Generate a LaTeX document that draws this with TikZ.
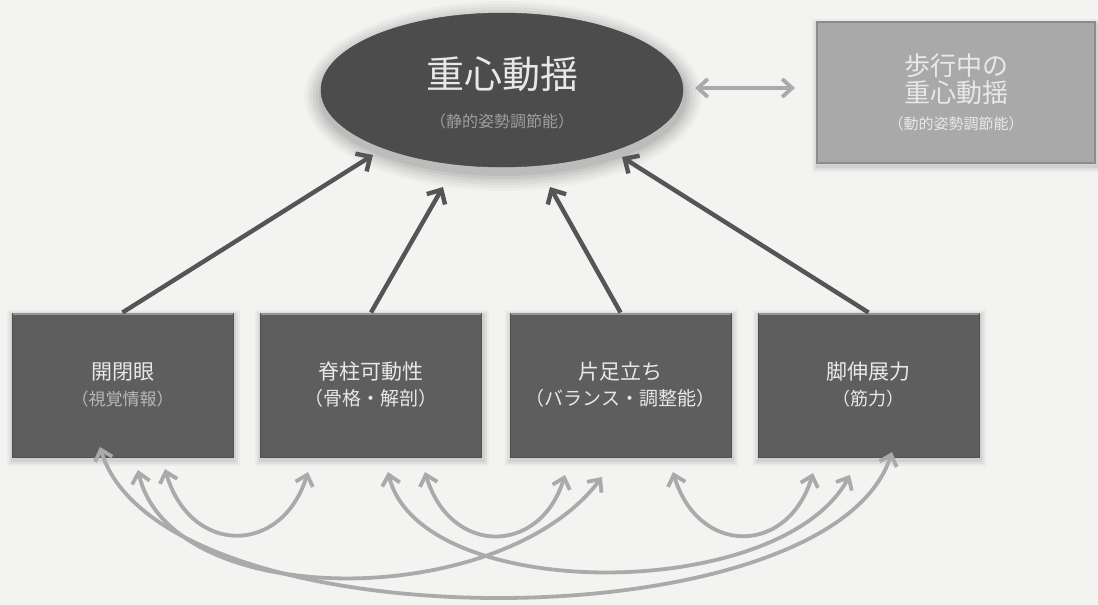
\documentclass[tikz,border=0pt]{standalone}
\usepackage{fontspec}
\newfontfamily\jp{Noto Sans CJK JP}
\usetikzlibrary{arrows.meta,shapes.geometric,calc}

\definecolor{paper}{HTML}{F3F3F1}
\definecolor{boxfill}{HTML}{5E5E5E}
\definecolor{boxedge}{HTML}{505050}
\definecolor{ellfill}{HTML}{4C4C4C}
\definecolor{walkfill}{HTML}{A9A9A9}
\definecolor{walkedge}{HTML}{8C8C8C}
\definecolor{darkarrow}{HTML}{555555}
\definecolor{lightarrow}{HTML}{AAAAAA}
\definecolor{boxtext}{HTML}{E8E8E8}

\begin{document}
\begin{tikzpicture}[x=1pt,y=-1pt,
  factor/.style={rectangle, draw=boxedge, line width=1pt, fill=boxfill,
    minimum width=221pt, minimum height=144pt, inner sep=0pt,
    text=boxtext, align=center, font=\jp\fontsize{21}{26}\selectfont},
  influence/.style={draw=darkarrow, line width=4.4pt,
    -{Straight Barb[length=11pt,width=21pt]}},
  mutual/.style={draw=lightarrow, line width=3.8pt,
    {Straight Barb[length=10pt,width=18pt]}-{Straight Barb[length=10pt,width=18pt]}}
]
% paper and fixed frame
\fill[paper] (0,0) rectangle (1098,605);
\useasboundingbox (0,0) rectangle (1098,605);

% soft glow under the central ellipse
\foreach \r/\o in {18/0.025,15/0.03,12/0.035,9/0.04,6/0.05,3/0.06}
  \fill[black,opacity=\o] (503,96) ellipse [x radius={181pt+\r pt}, y radius={77pt+\r pt}];

% central node: static balance
\node[ellipse, fill=ellfill, draw=ellfill!90!black, minimum width=362pt,
      minimum height=154pt, inner sep=0pt] (sway) at (502,90) {};
\node[align=center, text=boxtext, inner sep=0pt,
      font=\jp\fontsize{38}{39}\selectfont] (swaytext) at (502,93)
  {重心動揺\\
   {\fontsize{16}{20}\selectfont\color{black!38}（静的姿勢調節能）}};

% soft shadows of the boxes
\foreach \x/\y/\w/\h in {817/22/278/141, 12/313/221/144, 260/313/222/144, 510/313/221/144, 758/313/221/144}
  \foreach \s/\o in {6/0.035,4/0.045,2/0.06}
    \fill[black,opacity=\o] (\x-\s+1,\y-\s+3) rectangle (\x+\w+\s+1,\y+\h+\s+3);

% walking sway box
\node[rectangle, draw=walkedge, line width=1.2pt, fill=walkfill,
      minimum width=278pt, minimum height=141pt, inner sep=0pt,
      align=center, text=boxtext, font=\jp\fontsize{26}{27}\selectfont] (walk) at (956,92.5)
  {歩行中の\\
   重心動揺\\
   {\fontsize{15}{16}\selectfont （動的姿勢調節能）}};

% the four factors
\node[factor] (eyes)  at (122.5,385) {開閉眼\\{\fontsize{17}{20}\selectfont\color{black!28}（視覚情報）}};
\node[factor] (spine) at (371,385)   {脊柱可動性\\{\fontsize{19}{20}\selectfont （骨格・解剖）}};
\node[factor] (stand) at (620.5,385) {片足立ち\\{\fontsize{19}{20}\selectfont （バランス・調整能）}};
\node[factor] (legs)  at (868.5,385) {脚伸展力\\{\fontsize{18}{20}\selectfont （筋力）}};

% lighter top rims of the factor boxes
\foreach \n in {eyes,spine,stand,legs}
  \draw[black!42, line width=1.8pt] ([xshift=1pt,yshift=-1.2pt]\n.north west) -- ([xshift=-1pt,yshift=-1.2pt]\n.north east);

% arrow between static and dynamic sway
\coordinate (swayR) at (695,88);
\coordinate (walkL) at (795,88);
\draw[mutual] (swayR) -- (walkL);

% influences on static sway
\coordinate (inEyes)  at (373,155);
\coordinate (inSpine) at (443,187);
\coordinate (inStand) at (550,187);
\coordinate (inLegs)  at (622,157);
\draw[influence] (eyes.north)  -- (inEyes);
\draw[influence] (spine.north) -- (inSpine);
\draw[influence] (stand.north) -- (inStand);
\draw[influence] (legs.north)  -- (inLegs);

% mutual relations between the factors
\coordinate (e1) at (100,447);
\coordinate (e2) at (138,470);
\coordinate (e3) at (165,469);
\coordinate (s1) at (308,472);
\coordinate (s2) at (388,472);
\coordinate (s3) at (425,472);
\coordinate (t1) at (565,475);
\coordinate (t2) at (602,477);
\coordinate (t3) at (673,472);
\coordinate (l1) at (813,473);
\coordinate (l2) at (850,475);
\coordinate (l3) at (892,452);

\draw[mutual] (e3) .. controls (190,556) and (282,556) .. (s1);
\draw[mutual] (s3) .. controls (450,556) and (540,556) .. (t1);
\draw[mutual] (t3) .. controls (698,556) and (788,556) .. (l1);
\draw[mutual] (e2) .. controls (170,612) and (500,612) .. (t2);
\draw[mutual] (s2) .. controls (420,604) and (780,604) .. (l2);
\draw[mutual] (e1) .. controls (160,646) and (830,646) .. (l3);
\end{tikzpicture}
\end{document}
